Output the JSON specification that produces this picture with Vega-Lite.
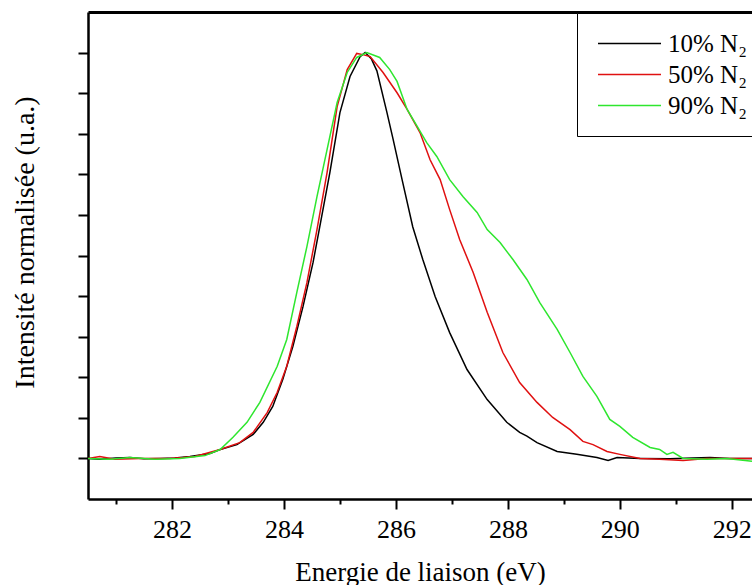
{
  "$schema": "https://vega.github.io/schema/vega-lite/v6.json",
  "autosize": {"type": "none"},
  "padding": {"left": 88, "top": 12, "right": 0, "bottom": 86},
  "width": 664,
  "height": 487,
  "background": "white",
  "config": {
    "view": {"stroke": null},
    "font": "Liberation Serif",
    "axis": {
      "domainColor": "black",
      "domainWidth": 2.5,
      "tickColor": "black",
      "tickWidth": 2,
      "grid": false,
      "labelColor": "black",
      "titleColor": "black",
      "titleFontWeight": "normal",
      "labelFont": "Liberation Serif",
      "titleFont": "Liberation Serif"
    }
  },
  "datasets": {
    "spectra": [
      {"E": 280.5, "I": 0, "s": "10% N₂"},
      {"E": 280.71, "I": -0.002, "s": "10% N₂"},
      {"E": 281.0, "I": 0.001, "s": "10% N₂"},
      {"E": 281.25, "I": 0.002, "s": "10% N₂"},
      {"E": 281.5, "I": -0.001, "s": "10% N₂"},
      {"E": 281.79, "I": 0, "s": "10% N₂"},
      {"E": 282.05, "I": 0.001, "s": "10% N₂"},
      {"E": 282.32, "I": 0.005, "s": "10% N₂"},
      {"E": 282.68, "I": 0.012, "s": "10% N₂"},
      {"E": 282.86, "I": 0.022, "s": "10% N₂"},
      {"E": 283.16, "I": 0.034, "s": "10% N₂"},
      {"E": 283.45, "I": 0.059, "s": "10% N₂"},
      {"E": 283.63, "I": 0.089, "s": "10% N₂"},
      {"E": 283.8, "I": 0.128, "s": "10% N₂"},
      {"E": 283.98, "I": 0.195, "s": "10% N₂"},
      {"E": 284.16, "I": 0.276, "s": "10% N₂"},
      {"E": 284.34, "I": 0.374, "s": "10% N₂"},
      {"E": 284.52, "I": 0.483, "s": "10% N₂"},
      {"E": 284.64, "I": 0.571, "s": "10% N₂"},
      {"E": 284.82, "I": 0.704, "s": "10% N₂"},
      {"E": 285.0, "I": 0.852, "s": "10% N₂"},
      {"E": 285.18, "I": 0.941, "s": "10% N₂"},
      {"E": 285.36, "I": 0.99, "s": "10% N₂"},
      {"E": 285.45, "I": 1.0, "s": "10% N₂"},
      {"E": 285.56, "I": 0.985, "s": "10% N₂"},
      {"E": 285.66, "I": 0.955, "s": "10% N₂"},
      {"E": 285.84, "I": 0.852, "s": "10% N₂"},
      {"E": 285.95, "I": 0.786, "s": "10% N₂"},
      {"E": 286.11, "I": 0.687, "s": "10% N₂"},
      {"E": 286.3, "I": 0.571, "s": "10% N₂"},
      {"E": 286.48, "I": 0.49, "s": "10% N₂"},
      {"E": 286.7, "I": 0.399, "s": "10% N₂"},
      {"E": 286.96, "I": 0.31, "s": "10% N₂"},
      {"E": 287.27, "I": 0.219, "s": "10% N₂"},
      {"E": 287.63, "I": 0.145, "s": "10% N₂"},
      {"E": 287.98, "I": 0.089, "s": "10% N₂"},
      {"E": 288.21, "I": 0.064, "s": "10% N₂"},
      {"E": 288.34, "I": 0.055, "s": "10% N₂"},
      {"E": 288.52, "I": 0.039, "s": "10% N₂"},
      {"E": 288.88, "I": 0.017, "s": "10% N₂"},
      {"E": 289.23, "I": 0.01, "s": "10% N₂"},
      {"E": 289.59, "I": 0.002, "s": "10% N₂"},
      {"E": 289.79, "I": -0.005, "s": "10% N₂"},
      {"E": 289.95, "I": 0.002, "s": "10% N₂"},
      {"E": 290.36, "I": 0, "s": "10% N₂"},
      {"E": 290.89, "I": -0.001, "s": "10% N₂"},
      {"E": 291.3, "I": 0.001, "s": "10% N₂"},
      {"E": 291.61, "I": 0.002, "s": "10% N₂"},
      {"E": 291.96, "I": 0, "s": "10% N₂"},
      {"E": 292.36, "I": 0, "s": "10% N₂"},

      {"E": 280.5, "I": 0, "s": "50% N₂"},
      {"E": 280.71, "I": 0.005, "s": "50% N₂"},
      {"E": 280.98, "I": -0.002, "s": "50% N₂"},
      {"E": 281.43, "I": 0, "s": "50% N₂"},
      {"E": 281.96, "I": 0, "s": "50% N₂"},
      {"E": 282.2, "I": 0.002, "s": "50% N₂"},
      {"E": 282.41, "I": 0.005, "s": "50% N₂"},
      {"E": 282.86, "I": 0.022, "s": "50% N₂"},
      {"E": 283.21, "I": 0.039, "s": "50% N₂"},
      {"E": 283.45, "I": 0.064, "s": "50% N₂"},
      {"E": 283.7, "I": 0.113, "s": "50% N₂"},
      {"E": 283.88, "I": 0.163, "s": "50% N₂"},
      {"E": 284.05, "I": 0.227, "s": "50% N₂"},
      {"E": 284.23, "I": 0.325, "s": "50% N₂"},
      {"E": 284.41, "I": 0.433, "s": "50% N₂"},
      {"E": 284.59, "I": 0.564, "s": "50% N₂"},
      {"E": 284.77, "I": 0.704, "s": "50% N₂"},
      {"E": 284.95, "I": 0.867, "s": "50% N₂"},
      {"E": 285.13, "I": 0.958, "s": "50% N₂"},
      {"E": 285.3, "I": 0.998, "s": "50% N₂"},
      {"E": 285.41, "I": 0.995, "s": "50% N₂"},
      {"E": 285.54, "I": 0.99, "s": "50% N₂"},
      {"E": 285.77, "I": 0.951, "s": "50% N₂"},
      {"E": 286.02, "I": 0.901, "s": "50% N₂"},
      {"E": 286.2, "I": 0.86, "s": "50% N₂"},
      {"E": 286.43, "I": 0.803, "s": "50% N₂"},
      {"E": 286.61, "I": 0.736, "s": "50% N₂"},
      {"E": 286.79, "I": 0.687, "s": "50% N₂"},
      {"E": 286.96, "I": 0.613, "s": "50% N₂"},
      {"E": 287.14, "I": 0.539, "s": "50% N₂"},
      {"E": 287.38, "I": 0.458, "s": "50% N₂"},
      {"E": 287.63, "I": 0.36, "s": "50% N₂"},
      {"E": 287.91, "I": 0.261, "s": "50% N₂"},
      {"E": 288.21, "I": 0.187, "s": "50% N₂"},
      {"E": 288.52, "I": 0.138, "s": "50% N₂"},
      {"E": 288.8, "I": 0.101, "s": "50% N₂"},
      {"E": 289.11, "I": 0.071, "s": "50% N₂"},
      {"E": 289.34, "I": 0.042, "s": "50% N₂"},
      {"E": 289.52, "I": 0.034, "s": "50% N₂"},
      {"E": 289.77, "I": 0.017, "s": "50% N₂"},
      {"E": 290.0, "I": 0.01, "s": "50% N₂"},
      {"E": 290.36, "I": 0, "s": "50% N₂"},
      {"E": 290.71, "I": -0.002, "s": "50% N₂"},
      {"E": 291.13, "I": -0.005, "s": "50% N₂"},
      {"E": 291.55, "I": 0, "s": "50% N₂"},
      {"E": 291.96, "I": 0, "s": "50% N₂"},
      {"E": 292.36, "I": 0, "s": "50% N₂"},

      {"E": 280.5, "I": 0, "s": "90% N₂"},
      {"E": 280.89, "I": -0.002, "s": "90% N₂"},
      {"E": 281.25, "I": 0.002, "s": "90% N₂"},
      {"E": 281.7, "I": -0.002, "s": "90% N₂"},
      {"E": 282.14, "I": 0, "s": "90% N₂"},
      {"E": 282.59, "I": 0.007, "s": "90% N₂"},
      {"E": 282.86, "I": 0.022, "s": "90% N₂"},
      {"E": 283.09, "I": 0.052, "s": "90% N₂"},
      {"E": 283.34, "I": 0.089, "s": "90% N₂"},
      {"E": 283.57, "I": 0.138, "s": "90% N₂"},
      {"E": 283.88, "I": 0.227, "s": "90% N₂"},
      {"E": 284.05, "I": 0.293, "s": "90% N₂"},
      {"E": 284.23, "I": 0.409, "s": "90% N₂"},
      {"E": 284.41, "I": 0.522, "s": "90% N₂"},
      {"E": 284.59, "I": 0.645, "s": "90% N₂"},
      {"E": 284.77, "I": 0.761, "s": "90% N₂"},
      {"E": 284.95, "I": 0.877, "s": "90% N₂"},
      {"E": 285.13, "I": 0.951, "s": "90% N₂"},
      {"E": 285.3, "I": 0.988, "s": "90% N₂"},
      {"E": 285.48, "I": 1.0, "s": "90% N₂"},
      {"E": 285.71, "I": 0.988, "s": "90% N₂"},
      {"E": 285.89, "I": 0.958, "s": "90% N₂"},
      {"E": 286.02, "I": 0.929, "s": "90% N₂"},
      {"E": 286.2, "I": 0.86, "s": "90% N₂"},
      {"E": 286.38, "I": 0.818, "s": "90% N₂"},
      {"E": 286.55, "I": 0.778, "s": "90% N₂"},
      {"E": 286.73, "I": 0.744, "s": "90% N₂"},
      {"E": 286.96, "I": 0.687, "s": "90% N₂"},
      {"E": 287.2, "I": 0.645, "s": "90% N₂"},
      {"E": 287.45, "I": 0.606, "s": "90% N₂"},
      {"E": 287.63, "I": 0.564, "s": "90% N₂"},
      {"E": 287.86, "I": 0.532, "s": "90% N₂"},
      {"E": 288.09, "I": 0.49, "s": "90% N₂"},
      {"E": 288.34, "I": 0.441, "s": "90% N₂"},
      {"E": 288.57, "I": 0.384, "s": "90% N₂"},
      {"E": 288.88, "I": 0.318, "s": "90% N₂"},
      {"E": 289.11, "I": 0.261, "s": "90% N₂"},
      {"E": 289.34, "I": 0.202, "s": "90% N₂"},
      {"E": 289.59, "I": 0.153, "s": "90% N₂"},
      {"E": 289.82, "I": 0.096, "s": "90% N₂"},
      {"E": 290.0, "I": 0.079, "s": "90% N₂"},
      {"E": 290.23, "I": 0.052, "s": "90% N₂"},
      {"E": 290.54, "I": 0.027, "s": "90% N₂"},
      {"E": 290.71, "I": 0.022, "s": "90% N₂"},
      {"E": 290.84, "I": 0.01, "s": "90% N₂"},
      {"E": 290.95, "I": 0.015, "s": "90% N₂"},
      {"E": 291.13, "I": 0, "s": "90% N₂"},
      {"E": 291.55, "I": -0.002, "s": "90% N₂"},
      {"E": 291.91, "I": 0, "s": "90% N₂"},
      {"E": 292.36, "I": -0.007, "s": "90% N₂"}
    ]
  },
  "data": {"name": "spectra"},
  "layer": [
    {
      "mark": {"type": "line", "strokeWidth": 1.5, "clip": true},
      "encoding": {
        "x": {
          "field": "E",
          "type": "quantitative",
          "scale": {"domain": [280.5, 292.36], "nice": false, "zero": false},
          "axis": {
            "orient": "bottom",
            "values": [281, 282, 283, 284, 285, 286, 287, 288, 289, 290, 291, 292],
            "tickSize": {"condition": {"test": "datum.value % 2 === 0", "value": 10}, "value": 5},
            "labelExpr": "datum.value % 2 === 0 ? datum.label : ''",
            "labelFontSize": 26,
            "labelPadding": 7,
            "labelFlush": false,
            "labelOverlap": false,
            "title": "Energie de liaison (eV)",
            "titleFontSize": 27,
            "titleY": 81,
            "titleBaseline": "alphabetic"
          }
        },
        "y": {
          "field": "I",
          "type": "quantitative",
          "scale": {"domain": [-0.1, 1.1], "nice": false, "zero": false},
          "axis": {
            "orient": "left",
            "values": [0, 0.1, 0.2, 0.3, 0.4, 0.5, 0.6, 0.7, 0.8, 0.9, 1.0],
            "labels": false,
            "tickSize": 10,
            "title": "Intensité normalisée (u.a.)",
            "titleFontSize": 28,
            "titleAngle": -90,
            "titleX": -55,
            "titleY": 230,
            "titleAlign": "center",
            "titleBaseline": "alphabetic"
          }
        },
        "color": {
          "field": "s",
          "type": "nominal",
          "scale": {"domain": ["10% N₂", "50% N₂", "90% N₂"], "range": ["#000000", "#e01010", "#2ee62e"]},
          "legend": {
            "title": null,
            "orient": "none",
            "legendX": 489,
            "legendY": 1,
            "symbolType": "stroke",
            "symbolSize": 3969,
            "symbolStrokeWidth": 1.5,
            "symbolOffset": 5,
            "labelOffset": 6,
            "labelFontSize": 25,
            "labelFont": "Liberation Serif",
            "labelColor": "black",
            "labelLimit": 0,
            "padding": 15,
            "rowPadding": 0,
            "clipHeight": 31,
            "strokeColor": "black",
            "fillColor": "white"
          }
        }
      }
    },
    {
      "mark": {"type": "line", "opacity": 0},
      "encoding": {
        "x": {
          "field": "E",
          "type": "quantitative",
          "axis": {"orient": "top", "labels": false, "ticks": false, "title": null, "domainWidth": 3}
        },
        "y": {"field": "I", "type": "quantitative", "axis": null}
      }
    }
  ],
  "resolve": {"axis": {"x": "independent", "y": "independent"}}
}
